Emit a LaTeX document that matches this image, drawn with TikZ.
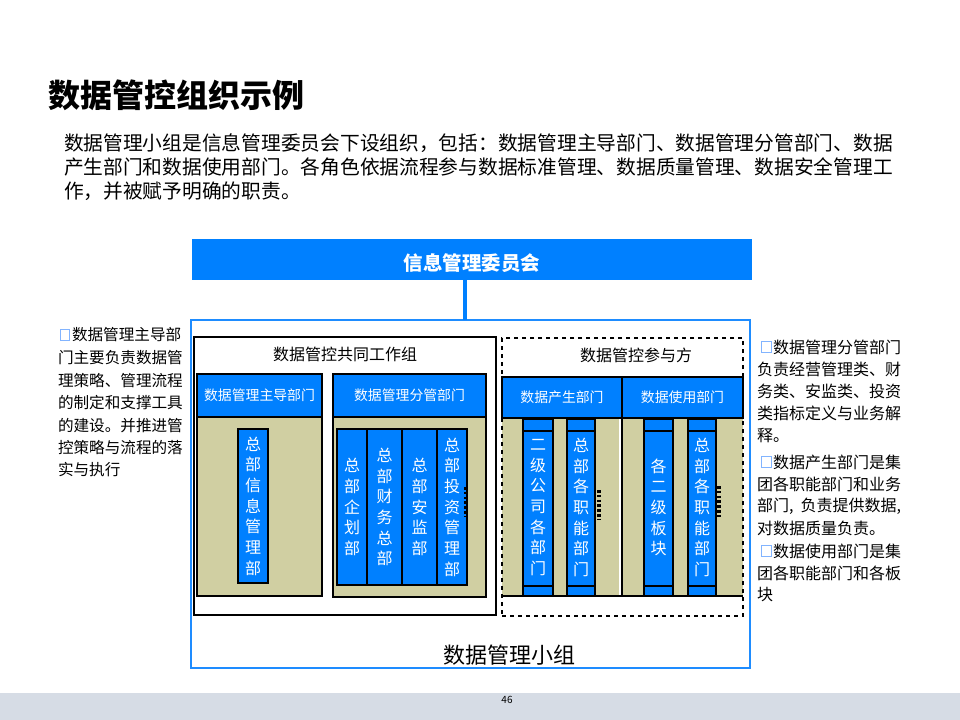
\documentclass[tikz,border=0pt]{standalone}
\usepackage{fontspec}
\setmainfont{Noto Sans CJK SC}
\usetikzlibrary{fit}
\definecolor{mblue}{RGB}{0,128,255}
\definecolor{gblue}{RGB}{30,140,255}
\definecolor{lblue}{RGB}{130,180,255}
\definecolor{tanc}{RGB}{208,207,162}
\definecolor{footc}{RGB}{214,220,229}
\begin{document}
\begin{tikzpicture}[x=0.75pt,y=-0.75pt,
  every node/.style={inner sep=0pt,outer sep=0pt},
  hdr/.style={fill=mblue, draw=black, line width=0.8pt},
  hdrtxt/.style={text=white, font=\fontsize{10.4}{12}\selectfont},
  tanbox/.style={fill=tanc, draw=black, line width=0.8pt},
  tanfill/.style={fill=tanc},
  colbox/.style={fill=mblue, draw=black, line width=0.8pt},
  coltxt/.style={text=white, align=center, font=\fontsize{12}{15.5}\selectfont},
  boxtitle/.style={font=\fontsize{12}{14}\selectfont},
  para/.style={anchor=west, font=\fontsize{14.8}{17}\selectfont},
  lside/.style={anchor=west, font=\fontsize{11.7}{14}\selectfont},
  rside/.style={anchor=west, font=\fontsize{12}{14}\selectfont},
  bul/.style={draw=lblue, line width=0.9pt, minimum width=7pt, minimum height=8.5pt},
  dotline/.style={line width=2.4pt, dash pattern=on 2pt off 1.6pt},
  sep/.style={draw=black, line width=0.8pt},
]
\useasboundingbox (0,0) rectangle (960,720);

% title and paragraph
\node[anchor=west, font=\bfseries\fontsize{24}{28}\selectfont] (title) at (48,95) {数据管控组织示例};
\node[para] (p1) at (64,143) {数据管理小组是信息管理委员会下设组织，包括：数据管理主导部门、数据管理分管部门、数据};
\node[para] (p2) at (64,167) {产生部门和数据使用部门。各角色依据流程参与数据标准管理、数据质量管理、数据安全管理工};
\node[para] (p3) at (64,191) {作，并被赋予明确的职责。};

% committee
\node[fill=mblue, fit={(192,239)(752,280)}] (comm) {};
\node[text=white, font=\bfseries\fontsize{14.6}{16}\selectfont] (commt) at ([yshift=-2.5pt]comm.center) {信息管理委员会};

% outer group
\node[draw=gblue, line width=1pt, fit={(191,320)(750,668)}] (grp) {};
\node[font=\fontsize{16.5}{18}\selectfont] (grplbl) at (509,655) {数据管理小组};
\coordinate (lk) at (465,280);
\draw[mblue, line width=3.4pt] (lk) -- (lk |- grp.north);

% working group
\node[draw=black, line width=0.9pt, fit={(194,337)(496,615)}] (wg) {};
\node[boxtitle] (wgt) at (345,354) {数据管控共同工作组};

\node[tanbox, fit={(197,417)(322,596)}] (t1) {};
\node[hdr, fit={(197,374)(322,417)}] (h1) {};
\node[hdrtxt] (h1t) at (h1.center) {数据管理主导部门};
\node[colbox, fit={(238,429)(268,583)}] (c1) {};
\node[coltxt] (c1t) at (c1.center) {总\\部\\信\\息\\管\\理\\部};

\node[tanbox, fit={(333,417)(486,597)}] (t2) {};
\node[hdr, fit={(333,374)(486,417)}] (h2) {};
\node[hdrtxt] (h2t) at (h2.center) {数据管理分管部门};
\node[colbox, fit={(337,429)(367,585)}] (c2) {};
\node[coltxt] (c2t) at (c2.center) {总\\部\\企\\划\\部};
\node[colbox, fit={(367,429)(402,585)}] (c3) {};
\node[coltxt] (c3t) at (c3.center) {总\\部\\财\\务\\总\\部};
\node[colbox, fit={(402,429)(437,585)}] (c4) {};
\node[coltxt] (c4t) at (c4.center) {总\\部\\安\\监\\部};
\node[colbox, fit={(437,429)(467,585)}] (c5) {};
\node[coltxt] (c5t) at (c5.center) {总\\部\\投\\资\\管\\理\\部};
\coordinate (d1) at (466,487);
\draw[dotline] (d1) -- ++(0,30);

% participants
\node[tanfill, fit={(502,418)(619,596)}] (tl) {};
\node[tanfill, fit={(623,418)(743,596)}] (tr) {};
\node[draw=black, dashed, line width=0.9pt, fit={(502,338)(743,616)}] (pp) {};
\node[boxtitle] (ppt) at (636,355) {数据管控参与方};
\node[hdr, fit={(502,377)(622,418)}] (h3) {};
\node[hdrtxt] (h3t) at (h3.center) {数据产生部门};
\node[hdr, fit={(622,377)(743,418)}] (h4) {};
\node[hdrtxt] (h4t) at (h4.center) {数据使用部门};
\draw[sep] (tl.south west) -- (tr.south east);
\draw[sep] (h3.south east) -- (h3.south east |- tl.south);

\node[colbox, fit={(523,419)(553,596)}] (ca) {};
\node[coltxt] (cat) at (ca.center) {二\\级\\公\\司\\各\\部\\门};
\node[colbox, fit={(567,419)(595,596)}] (cb) {};
\node[coltxt] (cbt) at (cb.center) {总\\部\\各\\职\\能\\部\\门};
\node[colbox, fit={(644,419)(673,596)}] (cc) {};
\node[coltxt] (cct) at (cc.center) {各\\二\\级\\板\\块};
\node[colbox, fit={(688,419)(716,596)}] (cd) {};
\node[coltxt] (cdt) at (cd.center) {总\\部\\各\\职\\能\\部\\门};
\foreach \c in {ca,cb,cc,cd}{
  \draw[sep] ([yshift=-9pt]\c.north west) -- ([yshift=-9pt]\c.north east);
  \draw[sep] ([yshift=7.5pt]\c.south west) -- ([yshift=7.5pt]\c.south east);
}
\coordinate (d2) at (599,490);
\draw[dotline] (d2) -- ++(0,30);
\coordinate (d3) at (719,486);
\draw[dotline] (d3) -- ++(0,31);

% left side text
\node[bul] (lb1) at (65,335) {};
\node[lside] (l1) at (72,335) {数据管理主导部};
\node[lside] (l2) at (58,358) {门主要负责数据管};
\node[lside] (l3) at (58,381) {理策略、管理流程};
\node[lside] (l4) at (58,403) {的制定和支撑工具};
\node[lside] (l5) at (58,426) {的建设。并推进管};
\node[lside] (l6) at (58,448) {控策略与流程的落};
\node[lside] (l7) at (58,470) {实与执行};

% right side text
\node[bul] (rb1) at (766.5,347) {};
\node[rside] (r1) at (773,347) {数据管理分管部门};
\node[rside] (r2) at (757,369) {负责经营管理类、财};
\node[rside] (r3) at (757,391) {务类、安监类、投资};
\node[rside] (r4) at (757,413) {类指标定义与业务解};
\node[rside] (r5) at (757,435) {释。};
\node[bul] (rb2) at (766.5,462) {};
\node[rside] (r6) at (773,462) {数据产生部门是集};
\node[rside] (r7) at (757,484) {团各职能部门和业务};
\node[rside] (r8) at (757,506) {部门, \ 负责提供数据,};
\node[rside] (r9) at (757,528) {对数据质量负责。};
\node[bul] (rb3) at (766.5,551) {};
\node[rside] (r10) at (773,551) {数据使用部门是集};
\node[rside] (r11) at (757,573) {团各职能部门和各板};
\node[rside] (r12) at (757,595) {块};

% footer
\fill[footc] (0,693) rectangle (960,720);
\node[font=\fontsize{7.5}{9}\selectfont] (pg) at (507,700) {46};
\end{tikzpicture}
\end{document}
